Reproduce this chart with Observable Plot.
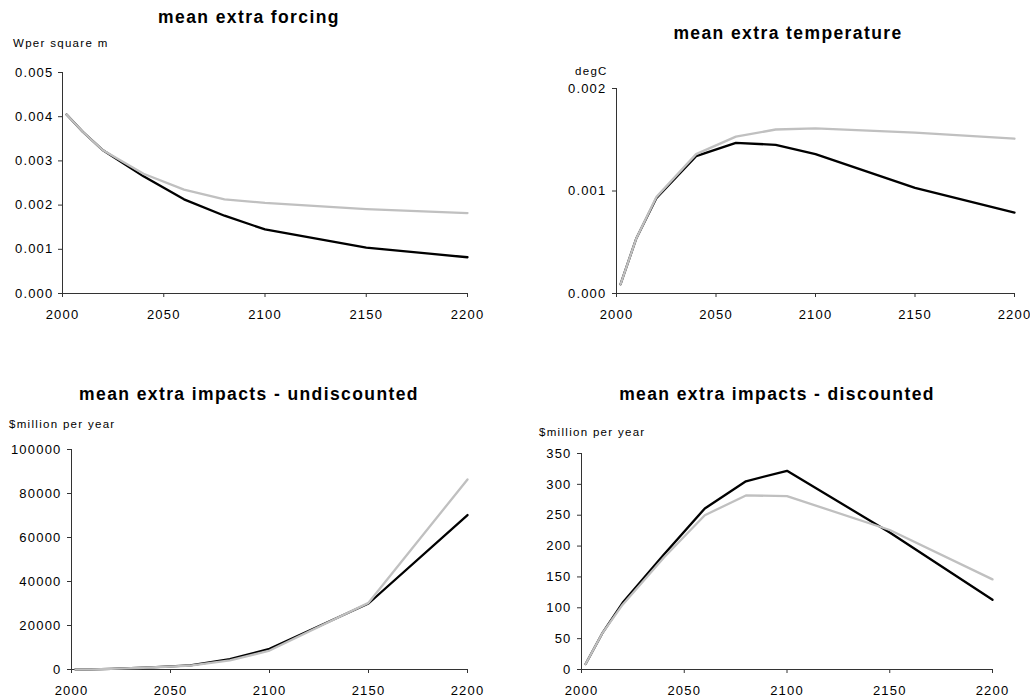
<!DOCTYPE html>
<html>
<head>
<meta charset="utf-8">
<script src="https://cdn.jsdelivr.net/npm/d3@7"></script>
<script src="https://cdn.jsdelivr.net/npm/@observablehq/plot@0.6"></script>
<style>
  html, body { margin: 0; padding: 0; background: #fff; }
  #root { position: relative; width: 1030px; height: 698px; overflow: hidden; background: #fff; font-family: "Liberation Sans", Arial, sans-serif; }
  .panel { position: absolute; }
  .panel svg text { letter-spacing: 1.2px; }
  .title { position: absolute; font-size: 17.5px; font-weight: bold; line-height: 17px; letter-spacing: 1.4px; white-space: nowrap; transform: translateX(-50%); color: #000; }
  .unit { position: absolute; font-size: 11.5px; line-height: 11px; letter-spacing: 1.3px; white-space: nowrap; color: #000; }
</style>
</head>
<body>
<div id="root"></div>
<script>
// ---- data ----
const years = [2002, 2010, 2020, 2040, 2060, 2080, 2100, 2150, 2200];
const xTicks = [2000, 2050, 2100, 2150, 2200];

const forcingBlack = [0.00405, 0.00366, 0.00324, 0.00265, 0.00213, 0.00176, 0.00145, 0.00104, 0.00082];
const forcingGray  = [0.00405, 0.00366, 0.00324, 0.00271, 0.00235, 0.00213, 0.00205, 0.00191, 0.00182];
const forcingTicks = [0, 0.001, 0.002, 0.003, 0.004, 0.005];

const tempBlack = [0.00009, 0.00054, 0.00093, 0.00134, 0.00147, 0.00145, 0.00136, 0.00103, 0.00079];
const tempGray  = [0.00009, 0.00054, 0.00094, 0.00136, 0.00153, 0.00160, 0.00161, 0.00157, 0.00151];
const tempTicks = [0, 0.001, 0.002];

const undiscBlack = [0, 100, 300, 1000, 1900, 4700, 9400, 30000, 70200];
const undiscGray  = [0, 100, 300, 900, 1800, 4100, 8600, 30300, 86400];
const undiscTicks = [0, 20000, 40000, 60000, 80000, 100000];

const discBlack = [9, 58, 108, 186, 261, 305, 322, 222, 113];
const discGray  = [9, 58, 105, 181, 250, 282, 281, 226, 146];
const discTicks = [0, 50, 100, 150, 200, 250, 300, 350];

const titles = ["mean extra forcing", "mean extra temperature", "mean extra impacts - undiscounted", "mean extra impacts - discounted"];
const units = ["Wper square m", "degC", "$million per year", "$million per year"];

// ---- layout ----
const panels = [
  {left: 0,   top: 0,   width: 515, height: 340, mt: 72,  mb: 47, ml: 62,  mr: 48, black: forcingBlack, gray: forcingGray, ticks: forcingTicks, fmt: d3.format(".3f"), yPad: 5,
   title: {x: 249, y: 9}, unit: {x: 13, y: 38}},
  {left: 515, top: 0,   width: 515, height: 340, mt: 88,  mb: 47, ml: 101, mr: 16, black: tempBlack, gray: tempGray, ticks: tempTicks, fmt: d3.format(".3f"), yPad: 6,
   title: {x: 788, y: 25}, unit: {x: 575, y: 66}},
  {left: 0,   top: 349, width: 515, height: 349, mt: 100, mb: 29, ml: 71,  mr: 48, black: undiscBlack, gray: undiscGray, ticks: undiscTicks, fmt: d3.format("d"), yPad: 6,
   title: {x: 249, y: 386}, unit: {x: 9, y: 419}},
  {left: 515, top: 349, width: 515, height: 349, mt: 104, mb: 29, ml: 66,  mr: 38, black: discBlack, gray: discGray, ticks: discTicks, fmt: d3.format("d"), yPad: 6,
   title: {x: 777, y: 386}, unit: {x: 539, y: 427}}
];

const root = document.getElementById("root");

panels.forEach((p, k) => {
  const data = years.map((t, i) => ({year: t, black: p.black[i], gray: p.gray[i]}));
  const yDom = [p.ticks[0], p.ticks[p.ticks.length - 1]];
  const chart = Plot.plot({
    width: p.width,
    height: p.height,
    marginTop: p.mt,
    marginBottom: p.mb,
    marginLeft: p.ml,
    marginRight: p.mr,
    style: {fontFamily: "Liberation Sans, Arial, sans-serif", fontSize: "13px", color: "#000", background: "transparent", overflow: "visible"},
    x: {domain: [2000, 2200], label: null},
    y: {domain: yDom, label: null},
    marks: [
      Plot.axisX({ticks: xTicks, tickFormat: d => String(d), tickSize: 4, tickPadding: 12, label: null, stroke: "#333"}),
      Plot.axisY({ticks: p.ticks, tickFormat: p.fmt, tickSize: 4, tickPadding: p.yPad, label: null, stroke: "#333"}),
      Plot.ruleX([2000], {stroke: "#333", strokeWidth: 1}),
      Plot.ruleY([yDom[0]], {stroke: "#333", strokeWidth: 1}),
      Plot.line(data, {x: "year", y: "black", stroke: "#000", strokeWidth: 2.3}),
      Plot.line(data, {x: "year", y: "gray", stroke: "#c0c0c0", strokeWidth: 2.3})
    ]
  });
  const wrap = document.createElement("div");
  wrap.className = "panel";
  wrap.style.left = p.left + "px";
  wrap.style.top = p.top + "px";
  wrap.appendChild(chart);
  root.appendChild(wrap);

  const t = document.createElement("div");
  t.className = "title";
  t.textContent = titles[k];
  t.style.left = p.title.x + "px";
  t.style.top = p.title.y + "px";
  root.appendChild(t);

  const u = document.createElement("div");
  u.className = "unit";
  u.textContent = units[k];
  u.style.left = p.unit.x + "px";
  u.style.top = p.unit.y + "px";
  root.appendChild(u);
});
</script>
</body>
</html>
